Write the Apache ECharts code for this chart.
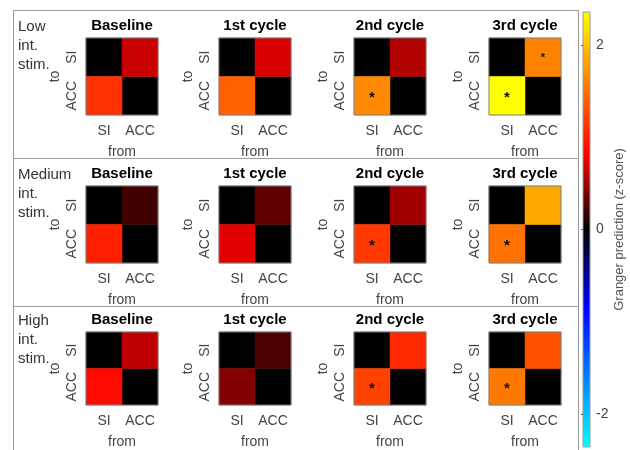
<!DOCTYPE html>
<html><head><meta charset="utf-8">
<script src="https://cdn.jsdelivr.net/npm/echarts@6/dist/echarts.min.js"></script>
<style>html,body{margin:0;padding:0;background:#fff}#c{width:630px;height:450px}</style>
</head><body><div id="c"></div>
<script>
// ---- data ----
const rowLabels = ['Low\nint.\nstim.', 'Medium\nint.\nstim.', 'High\nint.\nstim.'];
const columnTitles = ['Baseline', '1st cycle', '2nd cycle', '3rd cycle'];
const nodesFrom = ['SI', 'ACC'];
const nodesTo = ['ACC', 'SI'];
// Granger prediction z-scores, rows = stimulation intensity, cols = cycle
const siToAcc = [
  [1.12, 1.41, 1.65, 2.36],
  [1.02, 0.73, 1.17, 1.51],
  [0.88, 0.42, 1.22, 1.55]
];
const accToSi = [
  [0.65, 0.70, 0.57, 1.60],
  [0.21, 0.31, 0.52, 1.84],
  [0.62, 0.24, 1.07, 1.31]
];
const selfValue = 0;
// significance markers: 0 none, 1 large star, 2 small star
const siToAccStar = [
  [0, 0, 1, 1],
  [0, 0, 1, 1],
  [0, 0, 1, 1]
];
const accToSiStar = [
  [0, 0, 0, 2],
  [0, 0, 0, 0],
  [0, 0, 0, 0]
];
const cbMin = -2.36, cbMax = 2.36;
const cbTicks = [-2, 0, 2];
const cbLabel = 'Granger prediction (z-score)';

// ---- style / layout ----
const FONT = 'Liberation Sans, Arial, Helvetica, sans-serif';
const colLefts = [86, 219, 354, 489];
const rowTops = [38, 186, 332];
const cellW = 72, cellH = 77;

function cmap(t) {
  let r = 0, g = 0, b = 0;
  if (t >= 0) {
    if (t < 0.35) { r = 255 * t / 0.35; }
    else { r = 255; g = 255 * (t - 0.35) / 0.65; }
  } else {
    const s = -t;
    if (s < 0.35) { b = 255 * s / 0.35; }
    else { b = 255; g = 255 * (s - 0.35) / 0.65; }
  }
  return 'rgb(' + Math.round(r) + ',' + Math.round(g) + ',' + Math.round(b) + ')';
}
const colors = [];
for (let i = 0; i <= 80; i++) colors.push(cmap(-1 + 2 * i / 80));

const grids = [], xAxes = [], yAxes = [], series = [], graphics = [];
function starLabel(level) {
  if (!level) return { show: false };
  return { show: true, formatter: '*', color: '#111', fontWeight: 'bold',
           fontSize: level === 1 ? 15 : 11, offset: [0, level === 1 ? 2 : 1], fontFamily: FONT };
}
for (let r = 0; r < 3; r++) {
  for (let c = 0; c < 4; c++) {
    const gi = grids.length;
    grids.push({ left: colLefts[c], top: rowTops[r], width: cellW, height: cellH,
      show: true, borderColor: '#808080', borderWidth: 1, backgroundColor: 'transparent', z: 3 });
    xAxes.push({ gridIndex: gi, type: 'category', data: nodesFrom,
      axisLine: { show: false }, axisTick: { show: false }, splitLine: { show: false },
      axisLabel: { interval: 0, fontSize: 14, color: '#444', margin: 9, fontFamily: FONT },
      name: 'from', nameLocation: 'middle', nameGap: 30,
      nameTextStyle: { fontSize: 14, color: '#444', fontFamily: FONT } });
    yAxes.push({ gridIndex: gi, type: 'category', data: nodesTo,
      axisLine: { show: false }, axisTick: { show: false }, splitLine: { show: false },
      axisLabel: { interval: 0, fontSize: 14, color: '#444', margin: 7, rotate: 90, fontFamily: FONT },
      name: 'to', nameLocation: 'middle', nameGap: 24, nameRotate: 90,
      nameTextStyle: { fontSize: 14, color: '#444', fontFamily: FONT } });
    series.push({ type: 'heatmap', xAxisIndex: gi, yAxisIndex: gi,
      itemStyle: { borderWidth: 0 },
      emphasis: { disabled: true },
      data: [
        { value: [0, 1, selfValue] },
        { value: [1, 0, selfValue] },
        { value: [1, 1, accToSi[r][c]], label: starLabel(accToSiStar[r][c]) },
        { value: [0, 0, siToAcc[r][c]], label: starLabel(siToAccStar[r][c]) }
      ] });
    graphics.push({ type: 'text', x: colLefts[c] + cellW / 2, y: rowTops[r] - 12,
      style: { text: columnTitles[c], font: 'bold 15px ' + FONT, fill: '#000',
               textAlign: 'center', textVerticalAlign: 'middle' } });
  }
  graphics.push({ type: 'text', x: 18, y: rowTops[r] - 21,
    style: { text: rowLabels[r], font: '15px ' + FONT, fill: '#333',
             textAlign: 'left', textVerticalAlign: 'top', lineHeight: 19 } });
}
// frame
graphics.push({ type: 'rect', shape: { x: 13.5, y: 10.5, width: 565, height: 460 },
  style: { fill: 'none', stroke: '#999', lineWidth: 1 }, z: -1 });
graphics.push({ type: 'line', shape: { x1: 13.5, y1: 158.5, x2: 578.5, y2: 158.5 },
  style: { stroke: '#999', lineWidth: 1 }, z: -1 });
graphics.push({ type: 'line', shape: { x1: 13.5, y1: 306.5, x2: 578.5, y2: 306.5 },
  style: { stroke: '#999', lineWidth: 1 }, z: -1 });

// colorbar axis
const cbi = grids.length;
grids.push({ left: 583, top: 12, width: 7, height: 435, show: true, borderColor: '#999',
  borderWidth: 1, backgroundColor: 'transparent', z: 6 });
xAxes.push({ gridIndex: cbi, type: 'value', show: false });
yAxes.push({ gridIndex: cbi, type: 'value', min: cbMin, max: cbMax, position: 'right', z: 7,
  axisLine: { show: false }, splitLine: { show: false },
  axisTick: { show: true, inside: true, length: 2, customValues: cbTicks, lineStyle: { color: '#555' } },
  axisLabel: { customValues: cbTicks, fontSize: 14, color: '#444', margin: 6, fontFamily: FONT },
  name: cbLabel, nameLocation: 'middle', nameGap: 23, nameRotate: 90,
  nameTextStyle: { fontSize: 13, color: '#555', fontFamily: FONT } });
series.push({ type: 'line', xAxisIndex: cbi, yAxisIndex: cbi, data: [], silent: true });

const chart = echarts.init(document.getElementById('c'), null, { renderer: 'canvas' });
chart.setOption({
  animation: false,
  backgroundColor: '#fff',
  grid: grids, xAxis: xAxes, yAxis: yAxes,
  visualMap: { type: 'continuous', min: cbMin, max: cbMax, calculable: false, show: true,
    orient: 'vertical', left: 583, top: 12, itemWidth: 7, itemHeight: 435, padding: 0,
    seriesIndex: series.map((s, i) => i).slice(0, 12), inRange: { color: colors } },
  graphic: graphics,
  series: series
});
</script></body></html>
